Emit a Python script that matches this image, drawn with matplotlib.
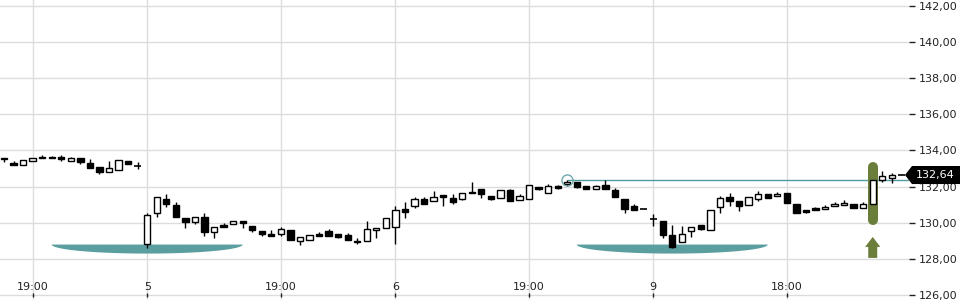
import matplotlib
matplotlib.use("Agg")

import matplotlib.pyplot as plt
import matplotlib.transforms as mtransforms
from matplotlib.patches import Polygon, FancyArrow
import numpy as np

# ==========================================
# Data
# ==========================================

opens = [133.57, 133.31, 133.20, 133.42, 133.64, 133.64, 133.64, 133.42, 133.57, 133.29,
         133.09, 132.83, 132.90, 133.42, 133.16, 128.82, 130.52, 131.31, 130.96, 130.26,
         130.02, 130.32, 129.47, 129.89, 129.91, 130.10, 129.80, 129.53, 129.38, 129.36,
         129.58, 128.99, 129.03, 129.39, 129.54, 129.38, 129.32, 129.00, 128.97, 129.58,
         129.69, 129.78, 130.76, 130.91, 131.31, 131.20, 131.52, 131.39, 131.33, 131.70,
         131.85, 131.50, 131.35, 131.79, 131.24, 131.30, 132.00, 131.65, 132.02, 132.13,
         132.27, 132.05, 131.85, 132.07, 131.81, 131.31, 130.91, 130.76, 130.21, 130.08,
         129.30, 128.93, 129.53, 129.86, 129.58, 130.85, 131.42, 131.20, 130.96, 131.31,
         131.57, 131.46, 131.63, 131.05, 130.69, 130.82, 130.76, 130.91, 130.98, 131.04,
         130.83, 131.02, 132.37, 132.46, 132.64]
highs = [133.57, 133.42, 133.47, 133.60, 133.75, 133.69, 133.75, 133.64, 133.57, 133.53,
         133.09, 133.42, 133.46, 133.42, 133.35, 130.54, 131.41, 131.59, 131.13, 130.26,
         130.30, 130.54, 129.76, 129.98, 130.10, 130.10, 129.80, 129.53, 129.61, 129.76,
         129.58, 129.19, 129.30, 129.50, 129.65, 129.38, 129.43, 129.17, 130.10, 129.71,
         130.24, 130.93, 131.15, 131.42, 131.44, 131.76, 131.55, 131.61, 131.63, 132.24,
         131.85, 131.50, 131.79, 131.87, 131.57, 132.07, 132.00, 132.16, 132.09, 132.38,
         132.27, 132.05, 132.09, 132.35, 131.91, 131.31, 131.05, 130.76, 130.47, 130.08,
         129.87, 129.80, 129.75, 129.86, 130.69, 131.46, 131.63, 131.20, 131.42, 131.76,
         131.57, 131.68, 131.63, 131.05, 130.69, 130.87, 130.98, 131.13, 131.28, 131.04,
         131.16, 132.35, 132.86, 132.75, 132.64]
lows = [133.35, 133.20, 133.20, 133.42, 133.57, 133.57, 133.42, 133.42, 133.27, 133.01,
        132.71, 132.83, 132.90, 133.27, 132.97, 128.60, 130.33, 130.87, 130.30, 129.72,
        129.95, 129.28, 129.17, 129.75, 129.91, 129.69, 129.50, 129.28, 129.25, 129.28,
        129.03, 128.77, 129.03, 129.28, 129.25, 129.17, 129.03, 128.84, 128.97, 129.17,
        129.69, 128.84, 130.28, 130.80, 131.02, 131.20, 130.91, 131.05, 131.28, 131.65,
        131.39, 131.24, 131.35, 131.19, 131.24, 131.30, 131.79, 131.65, 131.87, 132.02,
        131.91, 131.85, 131.85, 131.88, 131.41, 130.56, 130.72, 130.76, 129.80, 129.17,
        128.58, 128.93, 129.19, 129.60, 129.58, 130.52, 130.94, 130.67, 130.96, 131.20,
        131.39, 131.46, 131.08, 130.52, 130.54, 130.69, 130.76, 130.91, 130.98, 130.80,
        130.83, 131.02, 132.24, 132.20, 132.64]
closes = [133.50, 133.20, 133.47, 133.60, 133.57, 133.57, 133.50, 133.57, 133.35, 133.01,
          132.79, 133.01, 133.46, 133.27, 133.16, 130.43, 131.41, 131.05, 130.30, 130.06,
          130.30, 129.50, 129.76, 129.75, 130.10, 129.97, 129.58, 129.39, 129.28, 129.65,
          129.03, 129.19, 129.30, 129.28, 129.25, 129.23, 129.03, 128.92, 129.64, 129.71,
          130.24, 130.69, 130.58, 131.31, 131.02, 131.41, 131.41, 131.13, 131.63, 131.65,
          131.61, 131.30, 131.79, 131.19, 131.50, 132.07, 131.85, 132.02, 131.94, 132.27,
          131.96, 131.85, 132.03, 131.88, 131.41, 130.78, 130.72, 130.76, 130.21, 129.34,
          128.67, 129.36, 129.75, 129.64, 130.69, 131.35, 131.22, 130.94, 131.42, 131.57,
          131.39, 131.57, 131.08, 130.52, 130.59, 130.69, 130.89, 131.04, 131.11, 130.80,
          131.02, 132.35, 132.57, 132.63, 132.64]

last_price = 132.64

# time axis labels (candle index -> label)
tick_pos = [3, 15, 29, 41, 55, 68, 82]
tick_labels = ["19:00", "5", "19:00", "6", "19:00", "9", "18:00"]

# horizontal level from the marked high
level_start = 59
level_price = 132.35

# rounded-bottom zones (centre candle)
zone_centers = [15, 70]

# highlighted candle with the up arrow
signal_idx = 91
pill_low, pill_high = 129.87, 133.38
arrow_low, arrow_high = 128.05, 129.21

# ==========================================
# Plot
# ==========================================

TEAL = "#5b9ea0"
OLIVE = "#6a7d3b"
GRID = "#dcdcdc"

fig = plt.figure(figsize=(9.6, 3.0), dpi=100)
ax = fig.add_axes([0, 0, 909 / 960, 1])

n = len(opens)
x = np.arange(n)
o = np.array(opens)
h = np.array(highs)
l = np.array(lows)
c = np.array(closes)

ax.set_xlim(-0.42, 94.8)
ax.set_ylim(125.72, 142.33)

# grid
ax.set_yticks(np.arange(126, 143, 2))
ax.set_yticklabels([f"{v:.2f}".replace(".", ",") for v in np.arange(126, 143, 2)])
ax.set_xticks(tick_pos)
ax.grid(color=GRID, linewidth=1)
ax.set_axisbelow(True)
for s in ax.spines.values():
    s.set_visible(False)
ax.yaxis.tick_right()
ax.tick_params(axis="y", length=4, width=1, color="#222222", pad=3,
               labelsize=8, labelcolor="#222222")
ax.tick_params(axis="x", length=0, labelbottom=False)

# x tick labels inside the plot, with small ticks under them
for p, lab in zip(tick_pos, tick_labels):
    ax.text(p, 126.45, lab, ha="center", va="center", fontsize=8, color="#222222")
ax.vlines(tick_pos, 125.88, 126.12, color="#222222", linewidth=1)

# rounded-bottom zones
t = np.linspace(np.pi, 2 * np.pi, 80)
for zc in zone_centers:
    pts = np.column_stack([zc + 10.0 * np.cos(t), 128.79 + 0.5 * np.sin(t)])
    ax.add_patch(Polygon(pts, closed=True, facecolor=TEAL, edgecolor="none", zorder=1.5))

# level line + circle at its origin
ax.hlines(level_price, level_start, 94.8, color="#4f9a9c", linewidth=1, zorder=1.6)
ax.plot([level_start], [level_price], "o", markersize=8, markerfacecolor="none",
        markeredgecolor="#6fa9ac", markeredgewidth=1, zorder=4)

# highlight pill + arrow on the signal candle
cap = 0.28  # round cap radius in price units
ax.plot([signal_idx, signal_idx], [pill_low + cap, pill_high - cap],
        color=OLIVE, linewidth=7.2, solid_capstyle="round", zorder=1.7)
ax.add_patch(FancyArrow(signal_idx, arrow_low, 0, arrow_high - arrow_low, width=0.94,
                        head_width=1.6, head_length=0.55, length_includes_head=True,
                        facecolor=OLIVE, edgecolor="none", zorder=2))

# candles
body_w = 0.66
up = c > o
down = c < o
flat = c == o
ax.vlines(x, l, h, color="black", linewidth=1, zorder=2.5)
ax.bar(x[up], (c - o)[up], bottom=o[up], width=body_w, facecolor="white",
       edgecolor="black", linewidth=1, zorder=3)
ax.bar(x[down], (o - c)[down], bottom=c[down], width=body_w, facecolor="black",
       edgecolor="black", linewidth=1, zorder=3)
ax.hlines(c[flat], x[flat] - body_w / 2 - 0.05, x[flat] + body_w / 2 + 0.05,
          color="black", linewidth=1.2, zorder=3)

# last price flag on the right
trans = mtransforms.blended_transform_factory(fig.transFigure, ax.transData)
flag = [(905 / 960, last_price), (912 / 960, last_price + 0.5), (1.0, last_price + 0.5),
        (1.0, last_price - 0.5), (912 / 960, last_price - 0.5)]
fig.patches.append(Polygon(flag, closed=True, transform=trans, facecolor="black",
                           edgecolor="none", zorder=10))
fig.text(935.5 / 960, last_price, f"{last_price:.2f}".replace(".", ","), transform=trans,
         ha="center", va="center", fontsize=8, color="white", zorder=11)

plt.savefig("out.png", dpi=100)
